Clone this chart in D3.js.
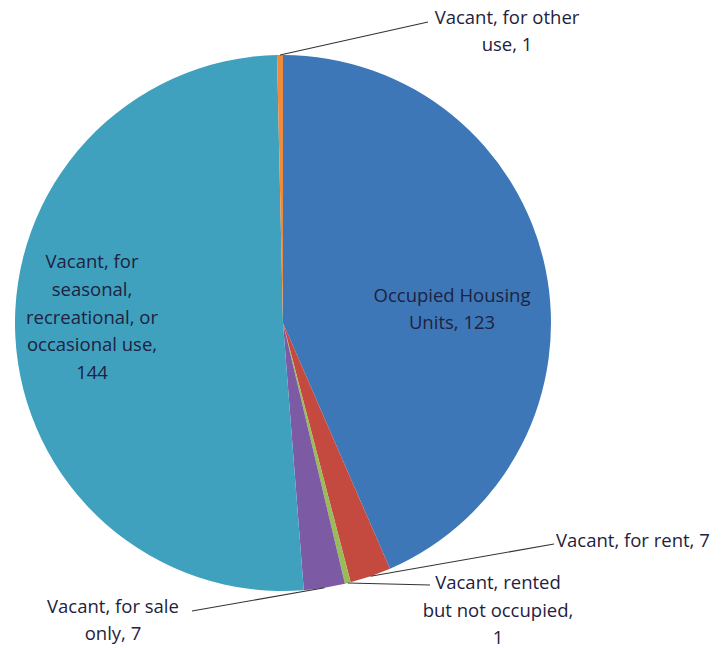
<!DOCTYPE html>
<html><head><meta charset="utf-8">
<script src="https://cdn.jsdelivr.net/npm/d3@7"></script>
<style>body{margin:0;background:#fff}svg{display:block}</style>
</head><body>
<svg id="c" width="721" height="648"></svg>
<script>
const categories = ["Occupied Housing Units","Vacant, for rent","Vacant, rented but not occupied","Vacant, for sale only","Vacant, for seasonal, recreational, or occasional use","Vacant, for other use"];
const values = [123,7,1,7,144,1];
const colors = ["#3d77b7","#c44a40","#9bbb59","#7d5aa4","#40a1bf","#f08a3a"];
const labelLines = [["Occupied Housing","Units, 123"],["Vacant, for rent, 7"],["Vacant, rented","but not occupied,","1"],["Vacant, for sale","only, 7"],["Vacant, for","seasonal,","recreational, or","occasional use,","144"],["Vacant, for other","use, 1"]];

const svg = d3.select("#c");
const cx = 283, cy = 323, r = 268;
const g = svg.append("g").attr("transform",`translate(${cx},${cy})`);
const pie = d3.pie().sort(null).value(d=>d);
const arcs = pie(values);
const arc = d3.arc().innerRadius(0).outerRadius(r);
g.selectAll("path").data(arcs).enter().append("path")
  .attr("d",arc).attr("fill",(d,i)=>colors[i]);

const layout = [
  {x:452,y:302,anchor:"middle",lh:27},
  {x:556,y:547,anchor:"start",lx:554,ly:544},
  {x:498,y:589,anchor:"middle",lx:430,ly:585,lh:27.5},
  {x:113,y:613,anchor:"middle",lx:192,ly:611,lh:27},
  {x:92,y:268,anchor:"middle",lh:27.8},
  {x:507,y:24,anchor:"middle",lx:428,ly:22,lh:27}
];
const txtColor = "#1e2240";
arcs.forEach((a,i)=>{
  const L = layout[i];
  if (L.lx !== undefined) {
    const m = (a.startAngle+a.endAngle)/2;
    const px = cx + r*Math.sin(m), py = cy - r*Math.cos(m);
    svg.append("line").attr("x1",px).attr("y1",py).attr("x2",L.lx).attr("y2",L.ly)
      .attr("stroke","#333").attr("stroke-width",1.1);
  }
  const t = svg.append("text").attr("font-family","'Open Sans', 'Noto Sans', sans-serif")
    .attr("font-size",18.5).attr("fill",txtColor).attr("text-anchor",L.anchor);
  labelLines[i].forEach((s,k)=>{
    t.append("tspan").attr("x",L.x).attr("y",L.y+k*(L.lh||27)).text(s);
  });
});
</script>
</body></html>
